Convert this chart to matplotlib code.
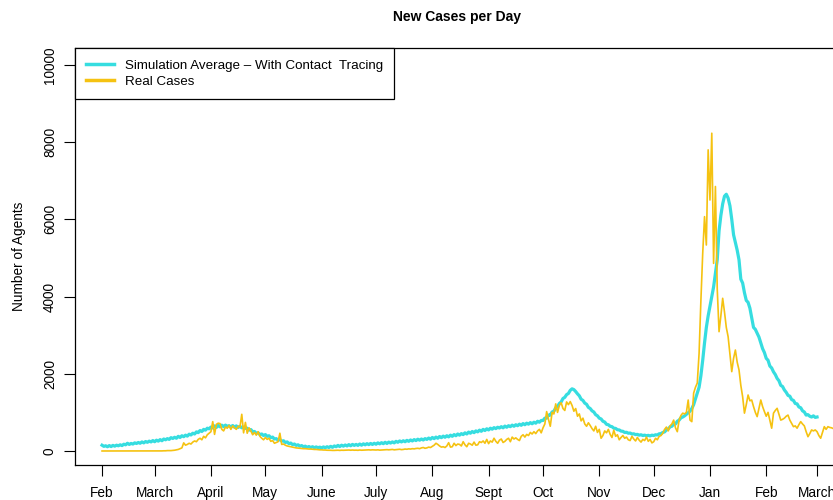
import numpy as np
import matplotlib
matplotlib.use("Agg")
import matplotlib.pyplot as plt

plt.rcParams['font.family'] = ['Liberation Sans', 'DejaVu Sans']

# daily values, day 0 = 1 Feb 2020
sim_avg = [
    150, 120, 135, 110, 140, 115, 145, 125, 150, 135,
    160, 140, 175, 160, 200, 170, 195, 180, 210, 195,
    220, 200, 235, 210, 245, 225, 255, 235, 270, 240,
    280, 255, 295, 265, 310, 290, 320, 300, 345, 325,
    355, 330, 380, 350, 395, 370, 410, 385, 435, 415,
    460, 440, 495, 475, 530, 505, 560, 540, 590, 575,
    620, 595, 650, 610, 665, 625, 670, 630, 670, 640,
    655, 620, 660, 615, 650, 610, 640, 600, 620, 585,
    590, 540, 555, 500, 505, 460, 470, 425, 440, 400,
    425, 380, 395, 345, 360, 310, 320, 280, 295, 255,
    265, 220, 235, 190, 205, 165, 180, 145, 160, 125,
    140, 110, 125, 95, 115, 90, 110, 85, 105, 85,
    100, 80, 105, 85, 110, 90, 120, 95, 130, 110,
    145, 115, 150, 125, 155, 130, 165, 135, 170, 145,
    170, 145, 180, 150, 185, 160, 190, 165, 195, 170,
    200, 175, 210, 185, 215, 190, 225, 195, 230, 205,
    235, 210, 250, 225, 260, 235, 265, 240, 275, 250,
    285, 260, 295, 270, 305, 280, 310, 285, 320, 300,
    335, 305, 350, 320, 360, 330, 375, 345, 385, 355,
    395, 365, 410, 380, 425, 395, 440, 410, 450, 425,
    470, 440, 490, 460, 505, 475, 520, 495, 540, 510,
    560, 530, 575, 545, 590, 565, 605, 580, 615, 595,
    630, 600, 645, 615, 655, 630, 670, 640, 680, 655,
    695, 665, 710, 680, 720, 695, 735, 705, 745, 720,
    770, 745, 790, 790, 850, 850, 930, 930, 1010, 1030,
    1120, 1150, 1230, 1270, 1360, 1390, 1460, 1490, 1570, 1610,
    1590, 1540, 1480, 1430, 1340, 1310, 1240, 1210, 1130, 1100,
    1040, 1010, 940, 910, 850, 830, 770, 750, 690, 680,
    640, 630, 590, 585, 550, 545, 515, 510, 480, 485,
    460, 465, 440, 445, 425, 430, 410, 420, 400, 410,
    395, 405, 390, 410, 400, 420, 415, 445, 450, 480,
    495, 545, 570, 625, 640, 690, 700, 770, 800, 860,
    880, 910, 950, 990, 1030, 1100, 1200, 1350, 1500, 1650,
    1950, 2350, 2800, 3200, 3500, 3750, 4000, 4250, 4600, 4950,
    5700, 6100, 6400, 6600, 6650, 6550, 6350, 6000, 5600, 5400,
    5200, 4950, 4450, 4350, 4100, 3900, 3850, 3700, 3450, 3200,
    3150, 3050, 2950, 2800, 2650, 2550, 2400, 2350, 2200, 2150,
    2050, 1980, 1880, 1820, 1700, 1670, 1580, 1520, 1440, 1420,
    1330, 1310, 1230, 1220, 1140, 1120, 1040, 1010, 930, 940,
    900, 880, 910, 870, 880,
]

real_cases = [
    0, 0, 0, 0, 0, 0, 0, 0, 0, 0,
    0, 0, 0, 0, 0, 0, 0, 0, 0, 0,
    0, 0, 0, 0, 0, 0, 0, 0, 0, 0,
    0, 1, 0, 2, 5, 5, 10, 10,
    10, 15, 20, 30, 40, 60, 80, 210, 150, 170,
    200, 180, 230, 260, 240, 300, 330, 290, 380, 340,
    420, 460, 500, 760, 430, 690, 720, 710, 560, 520,
    620, 590, 660, 560, 650, 600, 560, 640, 620, 950,
    470, 740, 460, 600, 520, 420, 480, 410, 500, 380,
    330, 290, 350, 300, 330, 250, 270, 200, 220, 240,
    460, 170, 180, 150, 130, 120, 110, 100, 90, 80,
    75, 70, 65, 60, 60, 55, 50, 50, 45, 40,
    40, 35, 30, 30, 25, 25, 20, 20, 18, 15,
    15, 18, 20, 15, 20, 18, 20, 22, 25, 20,
    25, 20, 22, 18, 25, 20, 22, 25, 28, 30,
    25, 30, 28, 25, 30, 22, 25, 28, 30, 35,
    30, 35, 40, 30, 35, 40, 45, 35, 40, 50,
    45, 55, 50, 60, 55, 65, 70, 60, 80, 90,
    70, 80, 100, 90, 120, 150, 200, 170, 130, 100,
    110, 90, 130, 215, 100, 110, 200, 140, 180, 170,
    130, 240, 160, 110, 200, 180, 150, 230, 150, 160,
    240, 220, 260, 200, 300, 190, 260, 230, 330, 250,
    200, 280, 310, 220, 250, 300, 330, 240, 360, 310,
    340, 300, 270, 380, 420, 360, 430, 400, 480, 440,
    500, 450, 520, 560, 470, 600, 700, 1020, 820, 640,
    1000, 960, 1220, 1000, 1180, 1250, 1100, 1050, 1270, 1200,
    1280, 1180, 1030, 1100, 900, 960, 780, 850, 700, 640,
    730, 660, 580, 520, 640, 480, 560, 330, 400, 520,
    470, 560, 430, 350, 540, 380, 420, 290, 350, 400,
    330, 360, 290, 270, 380, 310, 260, 350, 280, 230,
    300, 270, 360, 250, 300, 210, 240, 330, 290, 380,
    400, 460, 560, 620, 520, 650, 700, 800, 600, 500,
    800, 920, 980, 960, 1000, 1320, 800, 760, 1500, 1650,
    1760, 2530, 3900, 5120, 6070, 5335, 7800, 6500, 8230, 4860,
    6850, 4200, 3090, 3500, 3955, 3600, 3200, 2960, 2500, 2055,
    2400, 2615, 2300, 2100, 1700, 1405, 980, 1200, 1450, 1300,
    1320, 1150, 1000, 890, 1100, 1320, 1150, 1020, 900, 1000,
    800, 590, 980, 1050, 1105, 950, 800, 820, 850, 900,
    930, 800, 715, 630, 650, 590, 680, 760, 700, 650,
    500, 370, 450, 545, 520, 545, 500, 400, 330, 480,
    630, 560, 630, 610, 600, 580, 550,
]

month_labels = ["Feb", "March", "April", "May", "June", "July", "Aug",
                "Sept", "Oct", "Nov", "Dec", "Jan", "Feb", "March"]
month_starts = np.arange(np.datetime64('2020-02'), np.datetime64('2021-04'),
                         np.timedelta64(1, 'M')).astype('datetime64[D]')
month_days = (month_starts - np.datetime64('2020-02-01')).astype(int)

y_ticks = [0, 2000, 4000, 6000, 8000, 10000]

cyan = '#36DDE0'
gold = '#F5C211'

fig = plt.figure(figsize=(8.33, 5.0), dpi=100)
ax = fig.add_axes([75 / 833, 35 / 500, 764 / 833, 417 / 500])

ax.plot(np.arange(len(sim_avg)), sim_avg, color=cyan, lw=2.3,
        label="Simulation Average \u2013 With Contact  Tracing", zorder=3)
ax.plot(np.arange(len(real_cases)), real_cases, color=gold, lw=1.2,
        label="Real Cases", zorder=4)

ax.set_xlim(-14.9, 406.1)
ax.set_ylim(-363, 10438)

ax.set_xticks(month_days)
ax.set_xticklabels(month_labels)
ax.set_yticks(y_ticks)
ax.set_yticklabels([str(v) for v in y_ticks], rotation=90, va='center')

ax.tick_params(axis='both', direction='out', length=8, width=0.8,
               labelsize=9.8, colors='black')
ax.tick_params(axis='x', pad=7)
ax.tick_params(axis='y', pad=5)
for s in ax.spines.values():
    s.set_linewidth(0.9)

ax.set_ylabel("Number of Agents", fontsize=9.8)
ax.yaxis.set_label_coords((26 - 75) / 764, 0.5)
fig.text(457 / 833, 1 - 17 / 500, "New Cases per Day", ha='center',
         va='center', fontsize=10, fontweight='bold')

leg = ax.legend(loc='upper left', bbox_to_anchor=(0, 1), borderaxespad=0,
                fontsize=9.6, handlelength=2.1, handletextpad=0.8,
                labelspacing=0.28, borderpad=0.85, fancybox=False,
                framealpha=1, edgecolor='black')
leg.get_frame().set_linewidth(0.9)
for h in leg.get_lines():
    h.set_linewidth(2.5)

fig.savefig("out.png", dpi=100)
